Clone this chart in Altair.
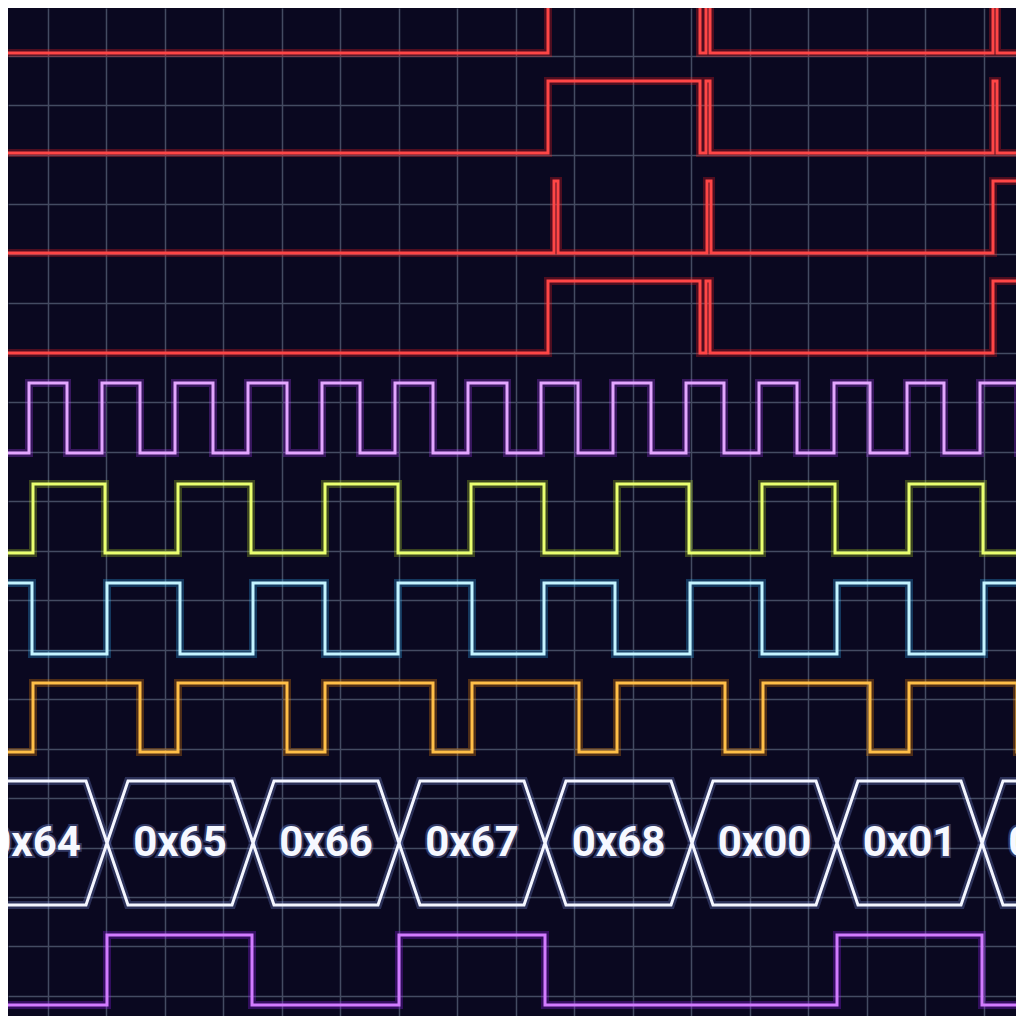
import altair as alt
import pandas as pd

# 画面の座標（参照写真のピクセル）をそのままデータ単位として使う
GRID_X = [48, 106, 165, 223, 282, 340, 399, 457, 516, 574, 633, 691, 750, 808, 867, 925, 984]
GRID_Y = [6, 56, 105, 155, 204, 254, 303, 353, 402, 452, 501, 551, 600, 650, 699, 749, 798, 848, 897, 946, 996]

# 各チャンネルの切り替わり時刻（エッジ）
RED1_EDGES = [548, 700, 706, 710, 993, 997]
RED2_EDGES = [548, 700, 706, 710, 993, 997]
RED3_EDGES = [554, 558, 707, 711, 993]
RED4_EDGES = [548, 700, 706, 710, 993]
CLK_EDGES = [29, 67, 102, 140, 175, 213, 248, 287, 322, 360, 395, 433, 468, 507,
             541, 578, 613, 651, 686, 724, 759, 797, 834, 870, 907, 944, 980, 1018]
YEL_EDGES = [33, 105, 178, 251, 325, 398, 471, 544, 617, 689, 762, 835, 909, 983]
CYAN_EDGES = [32, 107, 180, 253, 325, 398, 472, 544, 615, 690, 762, 837, 909, 984]
ORANGE_EDGES = [33, 140, 178, 287, 325, 433, 472, 579, 617, 725, 763, 870, 909, 1017]
SEL_EDGES = [107, 252, 399, 545, 837, 982]

# (名前, エッジ, Low位置, High位置, 初期がHighか)
CHANNELS = [
    ("R1", RED1_EDGES, 53, -20, False),
    ("R2", RED2_EDGES, 153, 81, False),
    ("R3", RED3_EDGES, 253, 181, False),
    ("R4", RED4_EDGES, 353, 281, False),
    ("CLK", CLK_EDGES, 453, 383, False),
    ("YEL", YEL_EDGES, 553, 484, False),
    ("CYAN", CYAN_EDGES, 654, 583, True),
    ("ORANGE", ORANGE_EDGES, 752, 683, False),
    ("SEL", SEL_EDGES, 1005, 935, False),
]
CORE_COLORS = ["#ff4646", "#ff4646", "#ff4646", "#ff4646", "#e4a6ff", "#eaff70", "#c4f4ff", "#ffbf48", "#d27cff"]
GLOW_COLORS = ["#ff2020", "#ff2020", "#ff2020", "#ff2020", "#b040ff", "#b8e020", "#30b8ff", "#ff9000", "#9a20ff"]

# デコードされたバス（六角形の区切りとラベル）
BUS_CROSS = [-39, 107, 253, 399, 545, 692, 837, 982, 1128]
BUS_LABELS = ["0x64", "0x65", "0x66", "0x67", "0x68", "0x00", "0x01", "0x02"]
BUS_TOP, BUS_BOTTOM = 781, 905

rows = []
for name, edges, low, high, start_high in CHANNELS:
    level = start_high
    rows.append({"ch": name, "t": -10, "v": high if level else low})
    for e in edges:
        level = not level
        rows.append({"ch": name, "t": e, "v": high if level else low})
    rows.append({"ch": name, "t": 1040, "v": high if level else low})
traces = pd.DataFrame(rows)

SLANT = 21
mid = (BUS_TOP + BUS_BOTTOM) / 2
hex_rows, label_rows = [], []
for i, lab in enumerate(BUS_LABELS):
    a, b = BUS_CROSS[i], BUS_CROSS[i + 1]
    pts = [(a, mid), (a + SLANT, BUS_TOP), (b - SLANT, BUS_TOP), (b, mid),
           (b - SLANT, BUS_BOTTOM), (a + SLANT, BUS_BOTTOM), (a, mid)]
    for k, (px, py) in enumerate(pts):
        hex_rows.append({"seg": i, "k": k, "t": px, "v": py})
    label_rows.append({"t": (a + b) / 2, "v": mid, "label": lab})
hexes = pd.DataFrame(hex_rows)
labels = pd.DataFrame(label_rows)

# ページ余白8pxを考慮して、写真のピクセル位置と1:1になるようにする
x_enc = alt.X("t:Q", scale=alt.Scale(domain=[8, 1016], nice=False, zero=False),
              axis=alt.Axis(values=GRID_X, grid=True, labels=False, ticks=False,
                            domain=False, title=None, gridColor="#444b62", gridWidth=1.5))
y_enc = alt.Y("v:Q", scale=alt.Scale(domain=[8, 1016], nice=False, zero=False, reverse=True),
              axis=alt.Axis(values=GRID_Y, grid=True, labels=False, ticks=False,
                            domain=False, title=None, gridColor="#444b62", gridWidth=1.5))

names = [c[0] for c in CHANNELS]
glow = alt.Chart(traces).mark_line(interpolate="step-after", strokeWidth=8, opacity=0.28, clip=True).encode(
    x=x_enc, y=y_enc,
    color=alt.Color("ch:N", scale=alt.Scale(domain=names, range=GLOW_COLORS), legend=None),
    detail="ch:N",
)
core = alt.Chart(traces).mark_line(interpolate="step-after", strokeWidth=3, clip=True).encode(
    x="t:Q", y="v:Q",
    color=alt.Color("ch:N", scale=alt.Scale(domain=names, range=CORE_COLORS), legend=None),
    detail="ch:N",
)
bus_glow = alt.Chart(hexes).mark_line(strokeWidth=8, opacity=0.25, color="#8fa8ff", clip=True).encode(
    x="t:Q", y="v:Q", order="k:Q", detail="seg:N"
)
bus = alt.Chart(hexes).mark_line(strokeWidth=3, color="#f4f6ff", clip=True).encode(
    x="t:Q", y="v:Q", order="k:Q", detail="seg:N"
)
text_glow = alt.Chart(labels).mark_text(
    font="Roboto", fontSize=42, fontWeight="bold", color="#8fa8ff", stroke="#8fa8ff", strokeWidth=4,
    opacity=0.3, align="center", baseline="middle", clip=True
).encode(x="t:Q", y="v:Q", text="label:N")
text = alt.Chart(labels).mark_text(
    font="Roboto", fontSize=42, fontWeight="bold", color="#f6f8ff", align="center", baseline="middle", clip=True
).encode(x="t:Q", y="v:Q", text="label:N")

chart = (
    alt.layer(glow, core, bus_glow, bus, text_glow, text)
    .resolve_scale(color="independent")
    .properties(width=1008, height=1008, padding=0, background="#0a0820",
                autosize=alt.AutoSizeParams(type="none"))
    .configure_view(strokeWidth=0)
)

chart.save("out.html", embed_options={"renderer": "svg", "actions": False})
